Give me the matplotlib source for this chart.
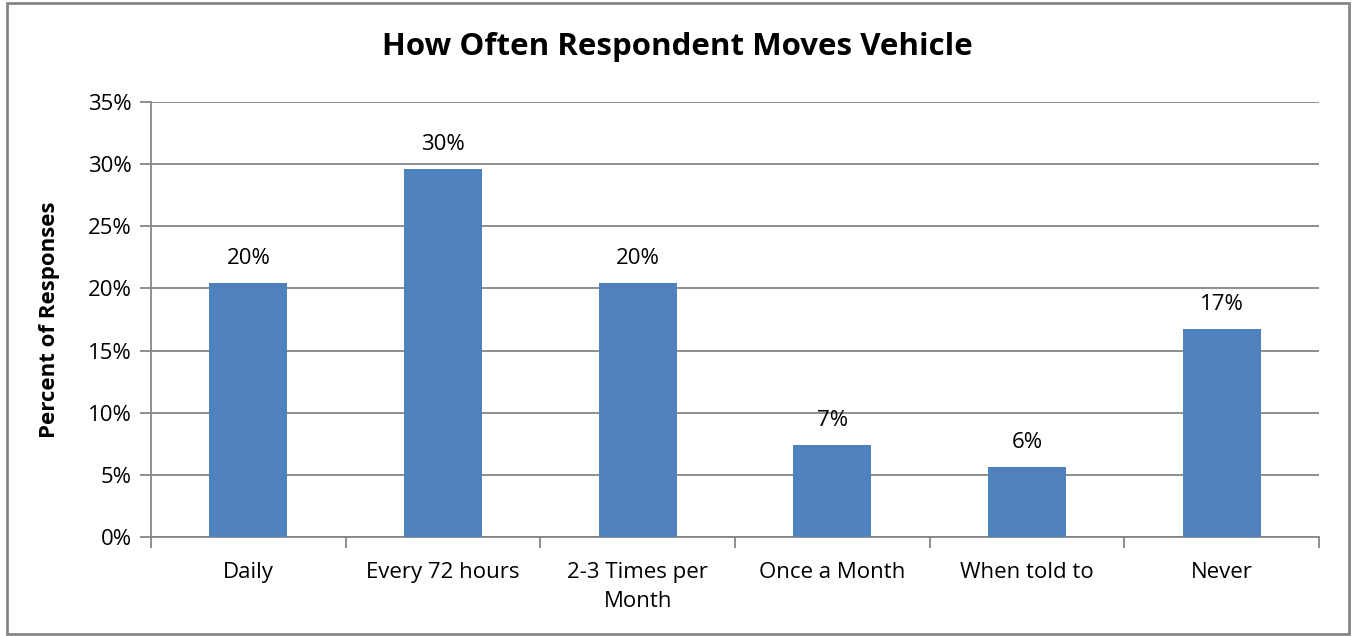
import matplotlib.pyplot as plt
from matplotlib.patches import Rectangle
from matplotlib.ticker import FuncFormatter, FixedLocator

# ── Data ─────────────────────────────────────────────────────────────────────
categories = ['Daily', 'Every 72 hours', '2-3 Times per\nMonth',
              'Once a Month', 'When told to', 'Never']
percent = [20.4, 29.6, 20.4, 7.4, 5.6, 16.7]
bar_labels = ['20%', '30%', '20%', '7%', '6%', '17%']

# ── Plot ─────────────────────────────────────────────────────────────────────
plt.rcParams['font.family'] = ['Open Sans', 'DejaVu Sans']
fig = plt.figure(figsize=(13.54, 6.36), dpi=100)
ax = fig.add_axes([151 / 1354, 1 - 537 / 636, 1168 / 1354, 435 / 636])

# outer chart frame
fig.patches.append(Rectangle((7 / 1354, 2 / 636), 1342 / 1354, 631 / 636,
                             transform=fig.transFigure, fill=False,
                             edgecolor='#868686', lw=2))

x = range(len(categories))
ax.bar(x, percent, width=0.4, color='#4f81bd', zorder=3)
for xi, v, lab in zip(x, percent, bar_labels):
    ax.text(xi, v + 1.15, lab, ha='center', va='bottom', fontsize=16)

ax.set_xlim(-0.5, len(categories) - 0.5)
ax.set_ylim(0, 35)
ax.set_yticks(range(0, 36, 5))
ax.yaxis.set_major_formatter(FuncFormatter(lambda v, p: f'{v:.0f}%'))
ax.grid(axis='y', color='#868686', lw=1.3, zorder=0)

ax.set_xticks(list(x))
ax.set_xticklabels(categories, fontsize=16, linespacing=1.5)
ax.tick_params(axis='x', length=0, pad=18)
ax.xaxis.set_minor_locator(FixedLocator([i - 0.5 for i in range(len(categories) + 1)]))
ax.tick_params(axis='x', which='minor', length=8, color='#868686', width=1.3)
ax.tick_params(axis='y', length=8, color='#868686', width=1.3, labelsize=16, pad=6)

for side in ['top', 'right']:
    ax.spines[side].set_visible(False)
for side in ['left', 'bottom']:
    ax.spines[side].set_color('#868686')
    ax.spines[side].set_linewidth(1.3)

ax.set_ylabel('Percent of Responses', fontsize=16, fontweight='bold', labelpad=20)
fig.text(0.5, 1 - 47 / 636, 'How Often Respondent Moves Vehicle',
         ha='center', va='center', fontsize=22.5, fontweight='bold')

fig.savefig('out.png', dpi=100)
